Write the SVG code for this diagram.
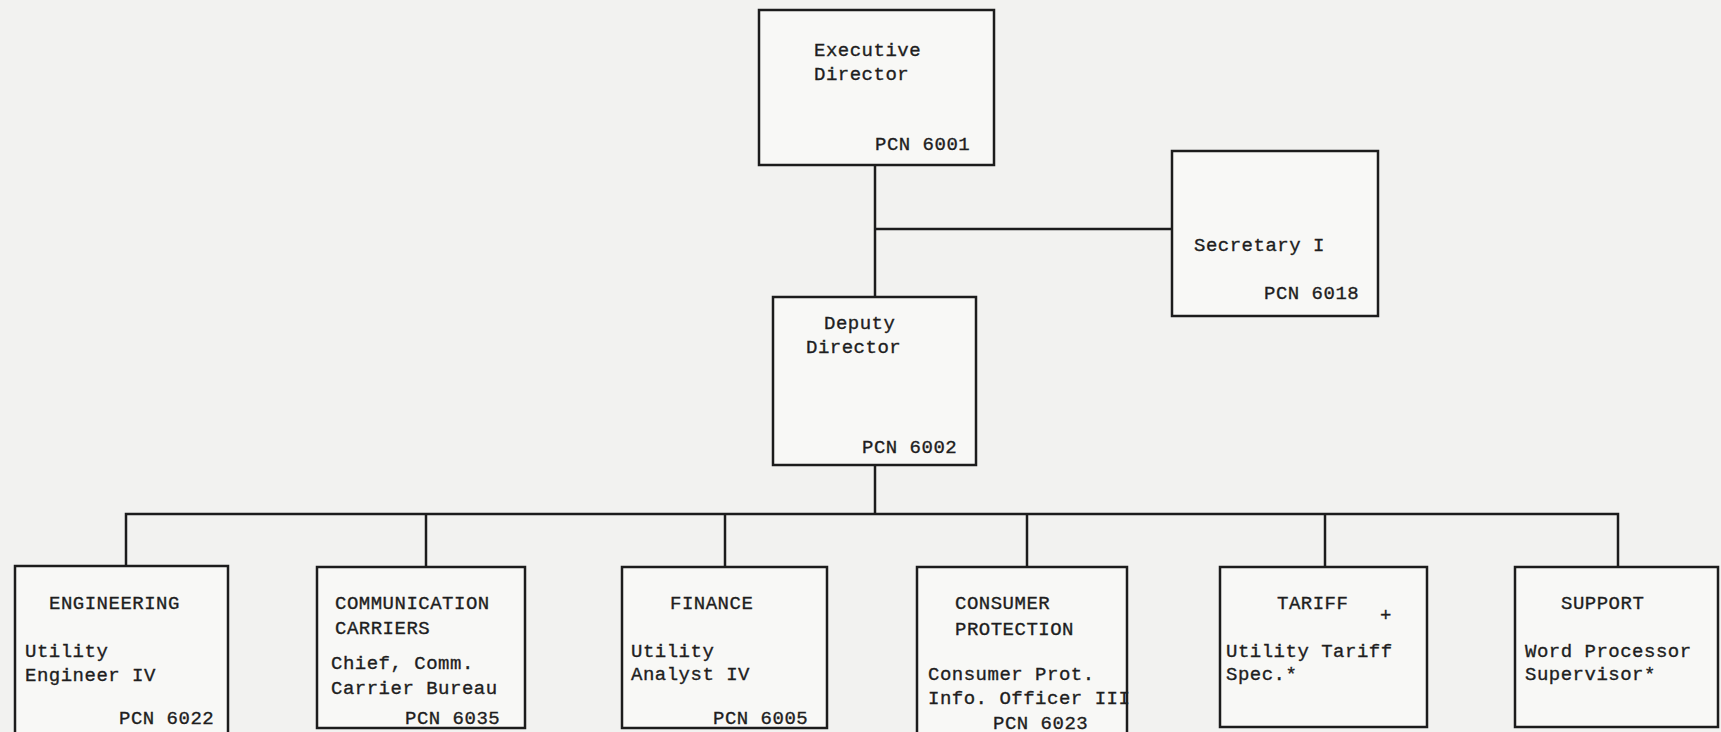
<svg xmlns="http://www.w3.org/2000/svg" width="1721" height="732" viewBox="0 0 1721 732">
<style>
.bg{fill:#f2f2f0}
.box{fill:#f8f8f6;stroke:#1c1c1c;stroke-width:2.5}
.ln{fill:none;stroke:#1c1c1c;stroke-width:2.5}
text{font-family:"Liberation Mono","DejaVu Sans Mono",monospace;font-size:19px;letter-spacing:0.5px;fill:#1e1e1e;stroke:#1e1e1e;stroke-width:0.35}
</style>
<rect class="bg" x="0" y="0" width="1721" height="732"/>
<g id="connectors">
<path class="ln" d="M875 165 V297"/>
<path class="ln" d="M875 229 H1173"/>
<path class="ln" d="M875 465 V514"/>
<path class="ln" d="M126 566 V514 H1618 V566"/>
<path class="ln" d="M426 514 V566"/>
<path class="ln" d="M725 514 V566"/>
<path class="ln" d="M1027 514 V566"/>
<path class="ln" d="M1325 514 V566"/>
</g>
<g id="executive-director">
<rect class="box" x="759" y="10" width="235" height="155"/>
<text x="814" y="56">Executive</text>
<text x="814" y="80">Director</text>
<text x="875" y="150">PCN 6001</text>
</g>
<g id="secretary">
<rect class="box" x="1172" y="151" width="206" height="165"/>
<text x="1194" y="251">Secretary I</text>
<text x="1264" y="299">PCN 6018</text>
</g>
<g id="deputy-director">
<rect class="box" x="773" y="297" width="203" height="168"/>
<text x="824" y="329">Deputy</text>
<text x="806" y="353">Director</text>
<text x="862" y="453">PCN 6002</text>
</g>
<g id="engineering">
<rect class="box" x="15" y="566" width="213" height="180"/>
<text x="49" y="609">ENGINEERING</text>
<text x="25" y="657">Utility</text>
<text x="25" y="681">Engineer IV</text>
<text x="119" y="724">PCN 6022</text>
</g>
<g id="communication-carriers">
<rect class="box" x="317" y="567" width="208" height="161"/>
<text x="335" y="609">COMMUNICATION</text>
<text x="335" y="634">CARRIERS</text>
<text x="331" y="669">Chief, Comm.</text>
<text x="331" y="694">Carrier Bureau</text>
<text x="405" y="724">PCN 6035</text>
</g>
<g id="finance">
<rect class="box" x="622" y="567" width="205" height="161"/>
<text x="670" y="609">FINANCE</text>
<text x="631" y="657">Utility</text>
<text x="631" y="680">Analyst IV</text>
<text x="713" y="724">PCN 6005</text>
</g>
<g id="consumer-protection">
<rect class="box" x="917" y="567" width="210" height="180"/>
<text x="955" y="609">CONSUMER</text>
<text x="955" y="635">PROTECTION</text>
<text x="928" y="680">Consumer Prot.</text>
<text x="928" y="704">Info. Officer III</text>
<text x="993" y="729">PCN 6023</text>
</g>
<g id="tariff">
<rect class="box" x="1220" y="567" width="207" height="160"/>
<text x="1277" y="609">TARIFF</text>
<text x="1380" y="621">+</text>
<text x="1226" y="657">Utility Tariff</text>
<text x="1226" y="680">Spec.*</text>
</g>
<g id="support">
<rect class="box" x="1515" y="567" width="203" height="160"/>
<text x="1561" y="609">SUPPORT</text>
<text x="1525" y="657">Word Processor</text>
<text x="1525" y="680">Supervisor*</text>
</g>
</svg>
